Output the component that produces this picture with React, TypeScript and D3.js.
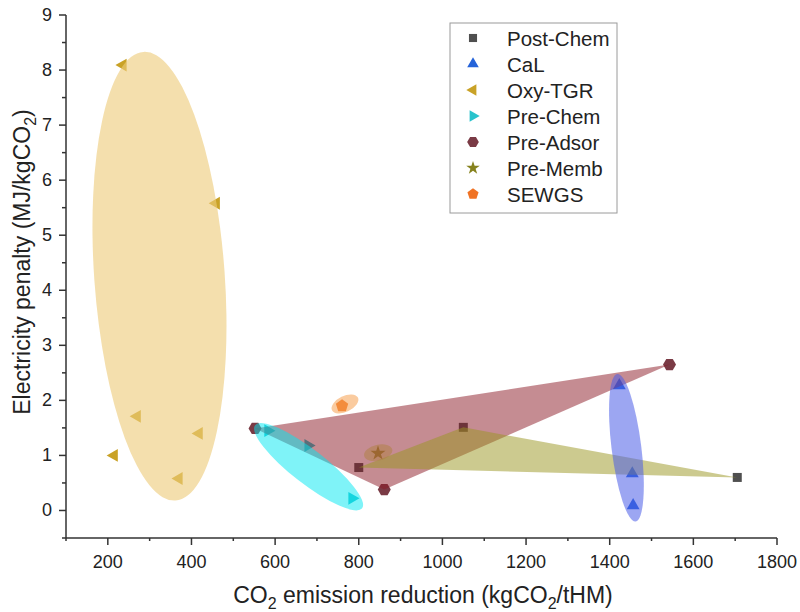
import React from "react";
import * as d3 from "d3";

// series values: [CO2 reduction, electricity penalty]
const postChem = [[800, 0.78], [1050, 1.51], [1705, 0.6]];
const calPoints = [[1423, 2.27], [1454, 0.67], [1456, 0.09]];
const oxyTGR = [[236, 8.09], [459, 5.58], [270, 1.71], [418, 1.4], [215, 1.0], [370, 0.58]];
const preChem = [[583, 1.45], [679, 1.18], [784, 0.22]];
const preAdsor = [[552, 1.49], [861, 0.38], [1543, 2.65]];
const preMemb = [[846, 1.04]];
const sewgs = [[760, 1.9]];

// ellipses: the two ends of the long axis in data units, plus width ratio
const oxyEllipse = [[285, 8.33], [362, 0.18], 0.29];
const calEllipse = [[1418, 2.48], [1462, -0.2], 0.2];
const preChemEllipse = [[552, 1.55], [808, 0.04], 0.25];
const sewgsEllipse = [[736, 1.82], [798, 2.05], 0.55];
const preMembEllipse = [[813, 0.99], [880, 1.11], 0.55];

const xTicks = [200, 400, 600, 800, 1000, 1200, 1400, 1600, 1800];
const yTicks = [0, 1, 2, 3, 4, 5, 6, 7, 8, 9];
const legendNames = ["Post-Chem", "CaL", "Oxy-TGR", "Pre-Chem", "Pre-Adsor", "Pre-Memb", "SEWGS"];

const font = "'Liberation Sans', Arial, sans-serif";

const x = d3.scaleLinear().domain([100, 1800]).range([66, 777]);
const y = d3.scaleLinear().domain([-0.5, 9]).range([538, 15]);

function regPoly(n: number, r: number, start: number) {
  const pts = d3.range(n).map((i) => {
    const a = start + (i * 2 * Math.PI) / n;
    return [r * Math.cos(a), r * Math.sin(a)];
  });
  return "M" + pts.map((p) => p.join(",")).join("L") + "Z";
}

const triPath = d3.symbol(d3.symbolTriangle, 72)() as string;

const marker = {
  "Post-Chem": { d: d3.symbol(d3.symbolSquare, 81)() as string, rot: 0, color: "#4f4f4f" },
  CaL: { d: triPath, rot: 0, color: "#2563d9" },
  "Oxy-TGR": { d: triPath, rot: -90, color: "#c9a227" },
  "Pre-Chem": { d: triPath, rot: 90, color: "#29c3cc" },
  "Pre-Adsor": { d: regPoly(6, 6.5, 0), rot: 0, color: "#7a3a45" },
  "Pre-Memb": { d: d3.symbol(d3.symbolStar, 70)() as string, rot: 0, color: "#86821e" },
  SEWGS: { d: regPoly(5, 6.5, -Math.PI / 2), rot: 0, color: "#f07325" },
} as Record<string, { d: string; rot: number; color: string }>;

const seriesData: [string, number[][]][] = [
  ["Oxy-TGR", oxyTGR],
  ["Post-Chem", postChem],
  ["CaL", calPoints],
  ["Pre-Chem", preChem],
  ["Pre-Adsor", preAdsor],
  ["Pre-Memb", preMemb],
  ["SEWGS", sewgs],
];

function Ellipse({ e, fill, opacity }: { e: any; fill: string; opacity: number }) {
  const [a, b, ratio] = e;
  const x1 = x(a[0]), y1 = y(a[1]), x2 = x(b[0]), y2 = y(b[1]);
  const cx = (x1 + x2) / 2, cy = (y1 + y2) / 2;
  const len = Math.hypot(x2 - x1, y2 - y1) / 2;
  const ang = (Math.atan2(y2 - y1, x2 - x1) * 180) / Math.PI;
  return (
    <ellipse
      cx={0}
      cy={0}
      rx={len}
      ry={len * ratio}
      transform={`translate(${cx},${cy}) rotate(${ang})`}
      fill={fill}
      fillOpacity={opacity}
    />
  );
}

function Hull({ pts, fill, opacity }: { pts: number[][]; fill: string; opacity: number }) {
  const line = d3.line<number[]>().x((d) => x(d[0])).y((d) => y(d[1]));
  return <path d={line(pts) + "Z"} fill={fill} fillOpacity={opacity} />;
}

export default function App() {
  const xMinor = d3.range(100, 1801, 100).filter((v) => v % 200 !== 0);
  const yMinor = d3.range(-0.5, 9, 1);
  return (
    <svg width={800} height={612} style={{ position: "absolute", left: 0, top: 0, background: "#fff" }} fontFamily={font}>
      {/* markers */}
      {seriesData.map(([name, pts]) =>
        pts.map((p, i) => (
          <path
            key={name + i}
            d={marker[name].d}
            transform={`translate(${x(p[0])},${y(p[1])}) rotate(${marker[name].rot})`}
            fill={marker[name].color}
          />
        ))
      )}

      {/* translucent groupings */}
      <Ellipse e={oxyEllipse} fill="#eecb7a" opacity={0.62} />
      <Hull pts={preAdsor} fill="#8b1a25" opacity={0.5} />
      <Hull pts={postChem} fill="#9a9520" opacity={0.5} />
      <Ellipse e={preChemEllipse} fill="#00e8f2" opacity={0.5} />
      <Ellipse e={calEllipse} fill="#4a5ce8" opacity={0.55} />
      <Ellipse e={sewgsEllipse} fill="#f5a050" opacity={0.55} />
      <Ellipse e={preMembEllipse} fill="#b08040" opacity={0.5} />

      {/* axes */}
      <g stroke="#333" strokeWidth={1.5} fill="none">
        <line x1={66} x2={66} y1={y(9)} y2={538} />
        <line x1={66} x2={x(1800)} y1={538} y2={538} />
        {xTicks.map((t) => (
          <line key={"xt" + t} x1={x(t)} x2={x(t)} y1={538} y2={545} />
        ))}
        {xMinor.map((t) => (
          <line key={"xm" + t} x1={x(t)} x2={x(t)} y1={538} y2={541} />
        ))}
        {yTicks.map((t) => (
          <line key={"yt" + t} x1={59} x2={66} y1={y(t)} y2={y(t)} />
        ))}
        {yMinor.map((t) => (
          <line key={"ym" + t} x1={62} x2={66} y1={y(t)} y2={y(t)} />
        ))}
      </g>
      <g fontSize={18} fill="#222">
        {xTicks.map((t) => (
          <text key={"xl" + t} x={x(t)} y={568} textAnchor="middle">
            {t}
          </text>
        ))}
        {yTicks.map((t) => (
          <text key={"yl" + t} x={52} y={y(t)} textAnchor="end" dominantBaseline="central">
            {t}
          </text>
        ))}
      </g>
      <text x={423} y={603} textAnchor="middle" fontSize={23} fill="#222">
        CO<tspan fontSize={16} dy={6}>2</tspan>
        <tspan dy={-6}> emission reduction (kgCO</tspan>
        <tspan fontSize={16} dy={6}>2</tspan>
        <tspan dy={-6}>/tHM)</tspan>
      </text>
      <text transform="translate(30,262) rotate(-90)" textAnchor="middle" fontSize={23} fill="#222">
        Electricity penalty (MJ/kgCO<tspan fontSize={16} dy={6}>2</tspan>
        <tspan dy={-6}>)</tspan>
      </text>

      {/* legend */}
      <rect x={450} y={23} width={167} height={190} fill="#fff" stroke="#9a9a9a" strokeWidth={1} />
      {legendNames.map((name, i) => (
        <g key={name} transform={`translate(0,${38 + i * 26})`}>
          <path d={marker[name].d} transform={`translate(473,0) rotate(${marker[name].rot}) scale(0.9)`} fill={marker[name].color} />
          <text x={507} y={0} dominantBaseline="central" fontSize={20.5} fill="#222">
            {name}
          </text>
        </g>
      ))}
    </svg>
  );
}
